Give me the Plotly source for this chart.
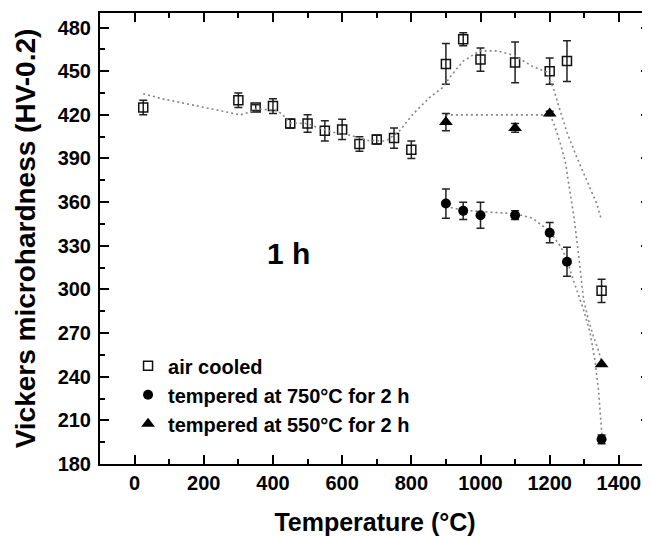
import plotly.graph_objects as go

# ---------------- data ----------------
temp_air = [25, 300, 350, 400, 450, 500, 550, 600, 650, 700, 750, 800,
            900, 950, 1000, 1100, 1200, 1250, 1350]
hv_air = [425, 430, 425, 426, 414, 414, 409, 410, 400, 403, 404, 396,
          455, 472, 458, 456, 450, 457, 299]
err_air = [5, 5, 2, 5, 3, 6, 7, 7, 5, 3, 7, 6, 14, 4.5, 8, 14, 9, 14, 8]

temp_750 = [900, 950, 1000, 1100, 1200, 1250, 1350]
hv_750 = [359, 354, 351, 351, 339, 319, 197]
err_750 = [10, 6, 9, 3, 7, 10, 3]

temp_550 = [900, 1100, 1200, 1350]
hv_550 = [415, 411, 421, 248.5]
err_550 = [6, 3, 1.5, 0]

# dotted guide curves
fit_air_x = [25, 80, 150, 210, 265, 305, 335, 352, 410, 425, 450, 500, 526, 574,
             622, 675, 728, 767, 806, 854, 892, 912, 950, 998, 1047, 1095, 1153,
             1191, 1211, 1230, 1250, 1278, 1307, 1336, 1350]
fit_air_y = [434.5, 431, 427.6, 424.9, 422, 420, 422, 424.2, 423, 420.8, 414.5, 414,
             411.6, 408, 406, 402.4, 402, 409.3, 420.8, 432.2, 439, 446, 457, 464,
             464, 461, 453, 449.5, 438, 423, 408, 391, 375, 359, 347.5]

fit750_x = [900, 950, 1000, 1050, 1100, 1150, 1200, 1230, 1252, 1259, 1278, 1298,
            1317, 1331, 1341, 1348, 1352]
fit750_y = [357, 354.5, 353.5, 353, 352, 349, 340, 330, 320, 313, 300, 286,
            270, 251, 231, 212, 197]

fit550_x = [900, 1000, 1100, 1180, 1200, 1215, 1230, 1245, 1258, 1270, 1283, 1298,
            1312, 1326, 1341, 1352]
fit550_y = [420, 420, 420, 420, 421, 412, 401, 388, 368, 350, 325, 293,
            279, 268, 258, 248.5]

x_ticks = [0, 200, 400, 600, 800, 1000, 1200, 1400]
y_ticks = [180, 210, 240, 270, 300, 330, 360, 390, 420, 450, 480]

FONT = "Arial, 'Liberation Sans', sans-serif"
DOT = dict(color="#858585", width=1.6, dash="2px,3px")

fig = go.Figure()

for fx, fy, ax in [(fit_air_x, fit_air_y, "y2"), (fit750_x, fit750_y, "y"), (fit550_x, fit550_y, "y")]:
    fig.add_trace(go.Scatter(x=fx, y=fy, mode="lines", line=DOT, yaxis=ax,
                             showlegend=False, hoverinfo="skip"))

EB = dict(type="data", color="#222222", thickness=1.5, width=4)

fig.add_trace(go.Scatter(
    x=temp_air, y=hv_air, mode="markers", name="air cooled",
    marker=dict(symbol="square-open", size=9, color="#111111", line=dict(width=1.5, color="#111111")),
    error_y=dict(array=err_air, **EB)))
fig.add_trace(go.Scatter(
    x=temp_750, y=hv_750, mode="markers", name="tempered at 750°C for 2 h",
    marker=dict(symbol="circle", size=10, color="#000000"),
    error_y=dict(array=err_750, **EB)))
fig.add_trace(go.Scatter(
    x=temp_550, y=hv_550, mode="markers", name="tempered at 550°C for 2 h",
    marker=dict(symbol="triangle-up", size=12, color="#000000"),
    error_y=dict(array=err_550, **EB)))

fig.add_annotation(x=444, y=325, xref="x", yref="y", text="1 h", showarrow=False,
                   font=dict(family=FONT, size=30, color="black", weight="bold"))

axis_common = dict(showgrid=False, zeroline=False, ticks="inside", ticklen=9, tickwidth=2,
                   tickcolor="black", linecolor="black", linewidth=2, automargin=False)

# the page body adds an 8px offset, so the figure is 8px smaller than the window
fig.update_layout(
    width=642, height=528,
    margin=dict(l=92, r=0, t=5, b=72, autoexpand=False),
    plot_bgcolor="white", paper_bgcolor="white",
    font=dict(family=FONT, color="black"),
    showlegend=True,
    legend=dict(x=0.051, y=0.261, xanchor="left", yanchor="top",
                bgcolor="rgba(0,0,0,0)", borderwidth=0,
                font=dict(family=FONT, size=20, color="black", weight="bold")),
    xaxis=dict(range=[-100, 1490], tickmode="array", tickvals=x_ticks,
               ticktext=[str(v) for v in x_ticks],
               showline=True, mirror="ticks",
               tickfont=dict(family=FONT, size=20, weight="bold"),
               ticklabelstandoff=0,
               minor=dict(dtick=100, tick0=0, ticks="inside", ticklen=5, tickwidth=2, tickcolor="black"),
               title=dict(text="Temperature (°C)", standoff=23,
                          font=dict(family=FONT, size=25, weight="bold")),
               **axis_common),
    yaxis=dict(range=[180, 490], tickmode="array", tickvals=y_ticks,
               ticktext=[str(v) for v in y_ticks],
               showline=True, mirror=False,
               tickfont=dict(family=FONT, size=20, weight="bold"),
               ticklabelstandoff=3,
               minor=dict(dtick=15, tick0=180, ticks="inside", ticklen=5, tickwidth=2, tickcolor="black"),
               title=dict(text="Vickers microhardness (HV-0.2)", standoff=14,
                          font=dict(family=FONT, size=28, weight="bold")),
               **axis_common),
    yaxis2=dict(matches="y", overlaying="y", side="right", anchor="x", automargin=False,
                showline=False, showticklabels=False, showgrid=False, zeroline=False,
                ticks="inside", ticklen=9, tickwidth=2, tickcolor="black",
                tickmode="array", tickvals=y_ticks,
                minor=dict(dtick=15, tick0=180, ticks="inside", ticklen=5, tickwidth=2, tickcolor="black")),
)

fig.write_html("out.html")
